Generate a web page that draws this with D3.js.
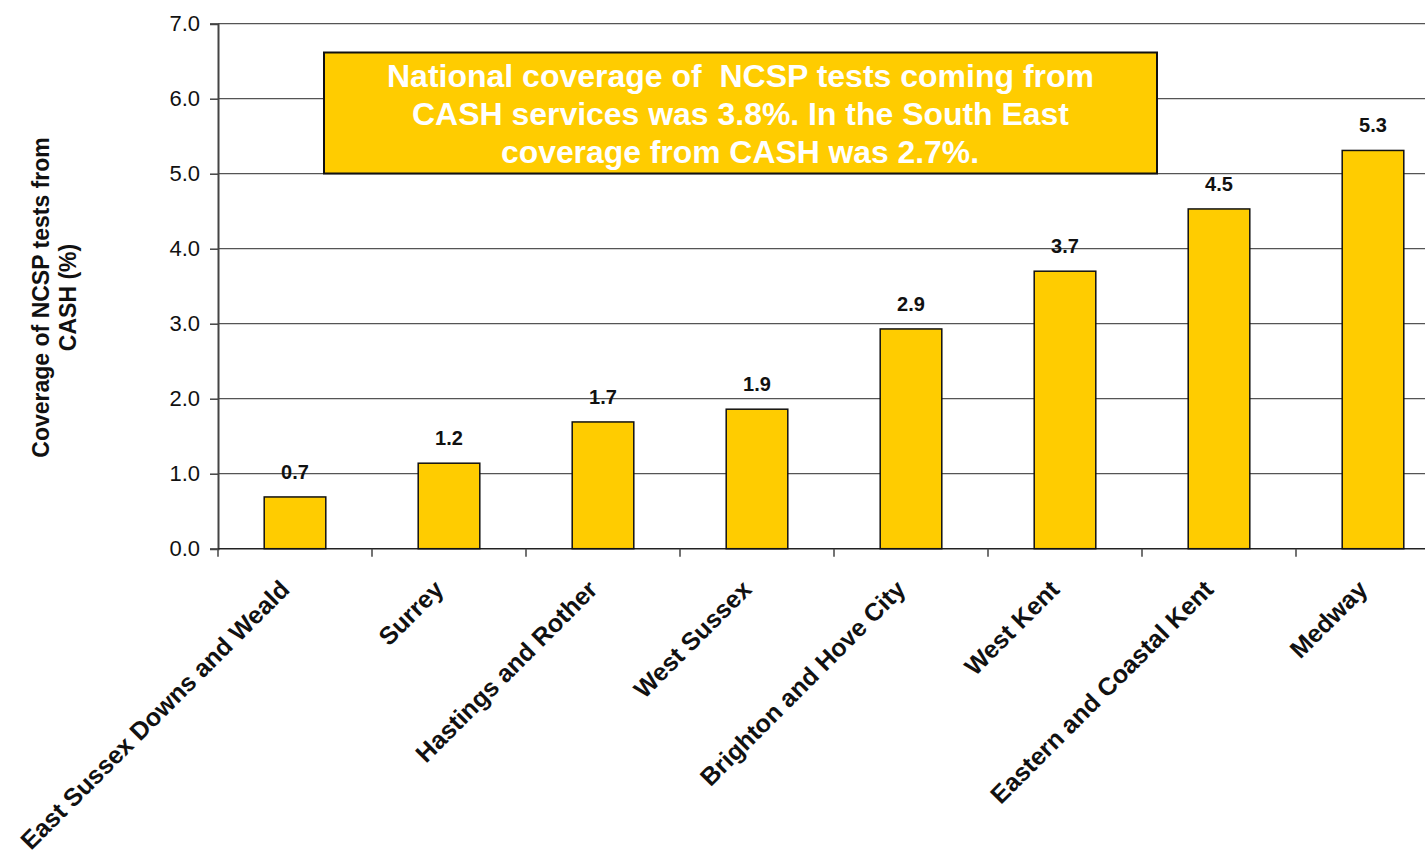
<!DOCTYPE html>
<html><head><meta charset="utf-8">
<script src="https://cdn.jsdelivr.net/npm/d3@7"></script>
<style>html,body{margin:0;padding:0;background:#fff;overflow:hidden}svg{display:block;font-family:"Liberation Sans",Arial,sans-serif}</style>
</head><body>
<svg id="chart" width="1425" height="861"></svg>
<script>
const categories = ["East Sussex Downs and Weald","Surrey","Hastings and Rother","West Sussex","Brighton and Hove City","West Kent","Eastern and Coastal Kent","Medway"];
const values = [0.69, 1.14, 1.69, 1.86, 2.93, 3.70, 4.53, 5.31];
const valueLabels = ["0.7","1.2","1.7","1.9","2.9","3.7","4.5","5.3"];
const yTicks = [0,1,2,3,4,5,6,7];
const yTitle = ["Coverage of NCSP tests from","CASH (%)"];
const note = ["National coverage of  NCSP tests coming from","CASH services was 3.8%. In the South East","coverage from CASH was 2.7%."];

(function(){
const svg = d3.select("#chart");
const pLeft = 218, pRight = 1450, pTop = 23.7, pBottom = 548.7;
const x = d3.scaleBand().domain(categories).range([pLeft, pRight]).paddingInner(0.6).paddingOuter(0.3);
const y = d3.scaleLinear().domain([0,7]).range([pBottom, pTop]);

// gridlines
svg.append("g").selectAll("line").data(yTicks.filter(d=>d>0)).join("line")
  .attr("x1", pLeft).attr("x2", pRight).attr("y1", d=>y(d)).attr("y2", d=>y(d))
  .attr("stroke", "#555").attr("stroke-width", 1.2);

// y axis
const ya = svg.append("g").attr("transform", `translate(${pLeft},0)`)
  .call(d3.axisLeft(y).tickValues(yTicks).tickFormat(d3.format(".1f")).tickSize(8).tickPadding(10));
ya.select(".domain").attr("stroke", "#444").attr("stroke-width", 2);
ya.selectAll(".tick line").attr("stroke", "#444").attr("stroke-width", 1.5);
ya.selectAll("text").attr("font-size", 22).attr("fill", "#111").attr("font-family", "Liberation Sans, Arial");

// x axis ticks (category boundaries)
const step = x.step();
svg.append("line").attr("x1", pLeft).attr("x2", pRight).attr("y1", pBottom).attr("y2", pBottom)
  .attr("stroke", "#222").attr("stroke-width", 1.5);
svg.append("g").selectAll("line").data(d3.range(categories.length+1)).join("line")
  .attr("x1", i => pLeft + i*step).attr("x2", i => pLeft + i*step)
  .attr("y1", pBottom).attr("y2", pBottom+8).attr("stroke", "#444").attr("stroke-width", 1.5);

// bars
svg.append("g").selectAll("rect").data(values).join("rect")
  .attr("x", (d,i)=>x(categories[i])).attr("width", x.bandwidth())
  .attr("y", d=>y(d)).attr("height", d=>y(0)-y(d))
  .attr("fill", "#FFCC00").attr("stroke", "#111").attr("stroke-width", 1.5);

// value labels
svg.append("g").selectAll("text").data(values).join("text")
  .attr("x", (d,i)=>x(categories[i])+x.bandwidth()/2).attr("y", d=>y(d)-18)
  .attr("text-anchor","middle").attr("font-size",20).attr("font-weight","bold").attr("fill","#111")
  .text((d,i)=>valueLabels[i]);

// x category labels
svg.append("g").selectAll("text").data(categories).join("text")
  .attr("transform", d=>`translate(${x(d)+x.bandwidth()/2-4},591) rotate(-45)`)
  .attr("text-anchor","end").attr("font-size",25).attr("font-weight","bold").attr("fill","#111")
  .text(d=>d);

// y title
svg.append("g").selectAll("text").data(yTitle).join("text")
  .attr("transform",(d,i)=>`translate(${49+i*27},297.5) rotate(-90)`)
  .attr("text-anchor","middle").attr("font-size",23).attr("font-weight","bold").attr("fill","#111")
  .text(d=>d);

// annotation box
const bx = 324, by = 52.5, bw = 833, bh = 121;
svg.append("rect").attr("x",bx).attr("y",by).attr("width",bw).attr("height",bh)
  .attr("fill","#FFCC00").attr("stroke","#111").attr("stroke-width",2);
const noteLens = [707, 657, 478];
svg.append("g").selectAll("text").data(note).join("text")
  .style("white-space","pre")
  .attr("x",(d,i)=>[740.5, 740.5, 740][i]).attr("y",(d,i)=>87+i*38)
  .attr("text-anchor","middle").attr("font-size",31).attr("font-weight","bold").attr("fill","#fff")
  .attr("textLength",(d,i)=>noteLens[i]).attr("lengthAdjust","spacingAndGlyphs")
  .text(d=>d);
})();
</script>
</body></html>
